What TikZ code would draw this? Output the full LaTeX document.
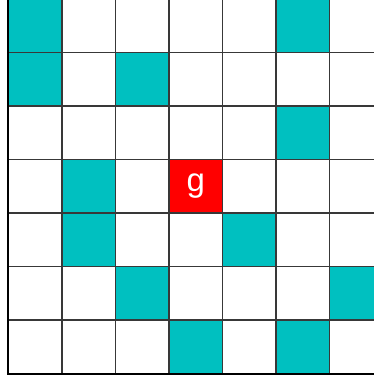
\documentclass[tikz,border=0pt]{standalone}
\usepackage{fontspec}
\setsansfont{Liberation Sans}
\usepackage{xcolor}
\usepackage{tikz}
\usetikzlibrary{positioning}
\definecolor{wallteal}{RGB}{0,192,192}
\definecolor{goalred}{RGB}{255,0,0}
\tikzset{
  cell/.style={rectangle,draw=black!78,line width=1.2pt,minimum size=53.5pt,inner sep=0pt,fill=white},
  wall/.style={cell,fill=wallteal},
  goal/.style={cell,fill=goalred,text=white,font=\sffamily\fontsize{33}{33}\selectfont}
}

\begin{document}
\begin{tikzpicture}[x=1pt,y=-1pt]
  \useasboundingbox (0,0) rectangle (374,378);
  \clip (0,0) rectangle (374,378);
  \foreach \r in {0,...,6}
    \foreach \c in {0,...,6}
      \node[cell] (c\r\c) at ({35.25+53.5*\c},{25.75+53.5*\r}) {};
  \foreach \r/\c in {0/0,0/5,1/0,1/2,2/5,3/1,4/1,4/4,5/2,5/6,6/3,6/5}
    \node[wall] (w\r\c) at (c\r\c) {};
  \node[goal] (g) at (c33) {g};
  \draw[line width=1.6pt] (c00.north west) -- (c60.south west) -- (c66.south east);
\end{tikzpicture}
\end{document}
